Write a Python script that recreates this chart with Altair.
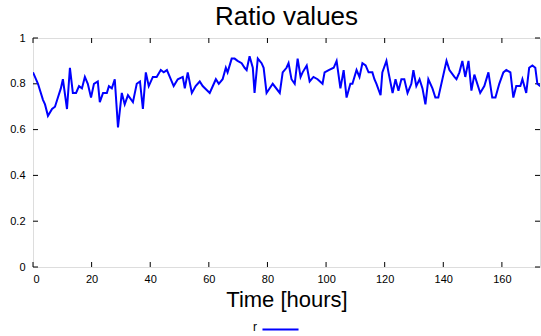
import altair as alt
import pandas as pd

# Time (hours) and ratio values
t = [0.0, 1.7, 3.4, 4.1, 5.1, 6.5, 7.5, 8.5, 9.5, 10.2, 11.6, 12.6, 13.6, 14.7, 15.7,
     16.7, 17.7, 18.7, 19.8, 20.8, 22.1, 22.8, 23.9, 25.2, 25.9, 26.9, 27.9, 29.0, 30.3,
     31.3, 32.4, 34.1, 35.4, 36.5, 37.5, 38.5, 39.5, 40.9, 42.2, 43.6, 44.6, 45.7, 47.0,
     48.0, 49.4, 51.1, 51.8, 52.8, 54.2, 55.5, 56.9, 57.9, 60.3, 62.4, 63.4, 64.7, 65.8,
     66.4, 67.8, 68.8, 69.8, 71.2, 72.2, 72.9, 73.9, 75.0, 75.6, 76.7, 78.0, 78.7, 79.7,
     81.8, 84.2, 85.2, 86.5, 87.2, 88.2, 89.3, 90.3, 91.3, 92.0, 93.4, 94.4, 95.7, 97.1,
     98.8, 99.5, 100.9, 102.6, 103.6, 104.9, 106.0, 107.0, 108.3, 109.0, 110.4, 111.4,
     112.4, 113.5, 114.5, 115.8, 116.5, 117.2, 118.6, 119.2, 120.6, 121.3, 122.7, 123.7,
     124.7, 125.7, 126.7, 127.8, 129.1, 129.8, 130.8, 131.9, 132.9, 133.9, 134.9, 136.3,
     137.3, 138.3, 141.1, 142.1, 143.8, 144.5, 145.5, 146.5, 147.5, 148.6, 149.6, 150.6,
     152.6, 154.0, 155.4, 156.7, 157.8, 159.1, 160.5, 161.5, 162.9, 163.9, 164.9, 166.3,
     167.0, 168.3, 169.3, 170.4, 171.4, 172.1, 173.1]
r = [0.85, 0.80, 0.73, 0.71, 0.66, 0.69, 0.70, 0.74, 0.78, 0.82, 0.69, 0.87, 0.76, 0.76, 0.79,
     0.78, 0.83, 0.80, 0.74, 0.80, 0.81, 0.72, 0.76, 0.76, 0.79, 0.78, 0.82, 0.61, 0.76,
     0.71, 0.75, 0.72, 0.80, 0.81, 0.69, 0.85, 0.79, 0.83, 0.83, 0.86, 0.85, 0.86, 0.82,
     0.79, 0.82, 0.83, 0.78, 0.85, 0.76, 0.79, 0.81, 0.79, 0.76, 0.82, 0.80, 0.82, 0.87,
     0.85, 0.91, 0.91, 0.90, 0.89, 0.87, 0.86, 0.92, 0.87, 0.76, 0.91, 0.89, 0.87, 0.76,
     0.80, 0.76, 0.85, 0.87, 0.89, 0.82, 0.80, 0.91, 0.83, 0.85, 0.88, 0.81, 0.83, 0.82,
     0.80, 0.85, 0.86, 0.87, 0.90, 0.78, 0.86, 0.74, 0.80, 0.80, 0.86, 0.83,
     0.89, 0.88, 0.85, 0.85, 0.82, 0.80, 0.75, 0.85, 0.90, 0.85, 0.76, 0.82,
     0.77, 0.82, 0.82, 0.76, 0.80, 0.86, 0.79, 0.82, 0.78, 0.71, 0.82, 0.78,
     0.74, 0.74, 0.90, 0.86, 0.83, 0.82, 0.85, 0.90, 0.83, 0.90, 0.77, 0.84,
     0.76, 0.79, 0.85, 0.74, 0.74, 0.80, 0.85, 0.86, 0.85, 0.74, 0.79, 0.79,
     0.82, 0.76, 0.87, 0.88, 0.87, 0.80, 0.79]
x_ticks = [0, 20, 40, 60, 80, 100, 120, 140, 160]
y_ticks = [0, 0.2, 0.4, 0.6, 0.8, 1]

FONT = "Liberation Sans"
W, H = 507, 229
XMAX = 173

df = pd.DataFrame({"t": t, "r": r, "s": ["r"] * len(t)})
xt = pd.DataFrame({"v": x_ticks})
yt = pd.DataFrame({"v": y_ticks})

xscale = alt.Scale(domain=[0, XMAX], nice=False, zero=False)
yscale = alt.Scale(domain=[0, 1], nice=False)

line = alt.Chart(df).mark_line(strokeWidth=2, clip=True).encode(
    x=alt.X("t:Q", scale=xscale,
            axis=alt.Axis(values=x_ticks, title="Time [hours]", ticks=False, domain=False,
                          grid=False, labelPadding=6, labelFontSize=11, labelFont=FONT,
                          labelColor="black", titleFont=FONT, titleFontSize=22,
                          titleFontWeight="normal", titleColor="black", titlePadding=5)),
    y=alt.Y("r:Q", scale=yscale,
            axis=alt.Axis(values=y_ticks, format="~g", title=None, ticks=False, domain=False,
                          grid=False, labelPadding=8, labelFontSize=11, labelFont=FONT,
                          labelColor="black")),
    color=alt.Color("s:N", scale=alt.Scale(range=["#0000ff"]),
                    legend=alt.Legend(title="r", titleOrient="left", orient="none",
                                      legendX=220, legendY=272, symbolType="stroke",
                                      symbolSize=1300, symbolStrokeWidth=2,
                                      symbolStrokeColor="#0000ff",
                                      labelExpr="''",
                                      titleFont=FONT, titleFontSize=12,
                                      titleFontWeight="normal", titleColor="black",
                                      titlePadding=4, titleBaseline="top")),
)

TL = 5
xb = alt.Chart(xt).mark_rule(color="black", strokeWidth=1).encode(
    x=alt.X("v:Q", scale=xscale), y=alt.value(H), y2=alt.value(H - TL))
xtp = alt.Chart(xt).mark_rule(color="black", strokeWidth=1).encode(
    x=alt.X("v:Q", scale=xscale), y=alt.value(0), y2=alt.value(TL))
yl = alt.Chart(yt).mark_rule(color="black", strokeWidth=1).encode(
    y=alt.Y("v:Q", scale=yscale), x=alt.value(0), x2=alt.value(TL))
yr = alt.Chart(yt).mark_rule(color="black", strokeWidth=1).encode(
    y=alt.Y("v:Q", scale=yscale), x=alt.value(W), x2=alt.value(W - TL))

chart = alt.layer(xb, xtp, yl, yr, line).properties(
    width=W, height=H,
    title=alt.Title("Ratio values", font=FONT, fontSize=26, fontWeight="normal",
                    color="black", anchor="middle", offset=2),
    autosize=alt.AutoSizeParams(type="none"),
    padding={"left": 33, "top": 38, "right": 1, "bottom": 69},
).configure_view(stroke="black", strokeWidth=1.2).configure(background="white")

chart.save("out.html", embed_options={"renderer": "svg", "actions": False})
